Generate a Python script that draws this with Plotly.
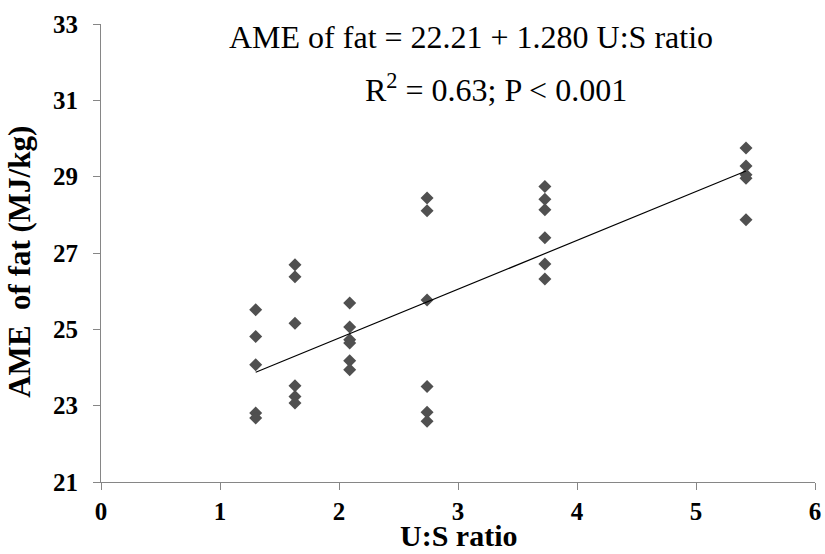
import plotly.graph_objects as go

# U:S ratio groups and measured AME of fat (MJ/kg)
us_ratio = [1.30]*5 + [1.63]*6 + [2.09]*6 + [2.74]*6 + [3.73]*6 + [5.42]*5
ame_fat = [25.51, 24.81, 24.07, 22.81, 22.68,
           26.69, 26.38, 25.16, 23.52, 23.24, 23.07,
           25.69, 25.06, 24.73, 24.64, 24.18, 23.94,
           28.44, 28.11, 25.77, 23.50, 22.83, 22.59,
           28.74, 28.41, 28.13, 27.40, 26.71, 26.32,
           29.75, 29.28, 29.05, 28.96, 27.87]

intercept = 22.21
slope = 1.280

x_ticks = [0, 1, 2, 3, 4, 5, 6]
y_ticks = [21, 23, 25, 27, 29, 31, 33]

fit_x = [min(us_ratio), max(us_ratio)]
fit_y = [intercept + slope * v for v in fit_x]

serif = "Liberation Serif, Times New Roman, serif"

fig = go.Figure()
fig.add_trace(go.Scatter(
    x=us_ratio, y=ame_fat, mode="markers",
    marker=dict(symbol="diamond", size=10, color="#505050"),
    showlegend=False, hoverinfo="x+y"))
fig.add_trace(go.Scatter(
    x=fit_x, y=fit_y, mode="lines",
    line=dict(color="#000000", width=1.2),
    showlegend=False, hoverinfo="skip"))

axis_common = dict(
    showline=True, linecolor="#868686", linewidth=1,
    ticks="outside", ticklen=7, tickcolor="#868686", tickwidth=1,
    showgrid=False, zeroline=False,
    tickfont=dict(family=serif, size=25, color="#000000", weight="bold"),
)

fig.update_xaxes(range=[0, 6], tickvals=x_ticks, ticklabelstandoff=0, **axis_common)
fig.update_yaxes(range=[21, 33], tickvals=y_ticks, ticklabelstandoff=10, **axis_common)

# axis titles
fig.add_annotation(x=0.5, y=-0.1565, xref="paper", yref="paper", showarrow=False,
                   xanchor="center", yanchor="bottom", text="<b>U:S ratio</b>",
                   font=dict(family=serif, size=30, color="#000000"))
fig.add_annotation(x=-0.114, y=0.48, xref="paper", yref="paper", showarrow=False,
                   xanchor="center", yanchor="middle", textangle=-90,
                   text="<b>AME\u00a0 of fat (MJ/kg)</b>",
                   font=dict(family=serif, size=31, color="#000000"))

# regression text
fig.add_annotation(x=3.11, y=32.66, xref="x", yref="y", showarrow=False,
                   text="AME of fat = 22.21 + 1.280 U:S ratio",
                   font=dict(family=serif, size=32, color="#000000"))
fig.add_annotation(x=3.32, y=31.32, xref="x", yref="y", showarrow=False,
                   text="R<sup>2</sup> = 0.63; P &lt; 0.001",
                   font=dict(family=serif, size=32, color="#000000"))

fig.update_layout(
    width=825, height=554,
    margin=dict(l=101, r=10, t=24, b=72, autoexpand=False),
    plot_bgcolor="white", paper_bgcolor="white",
)

fig.write_html("out.html")
